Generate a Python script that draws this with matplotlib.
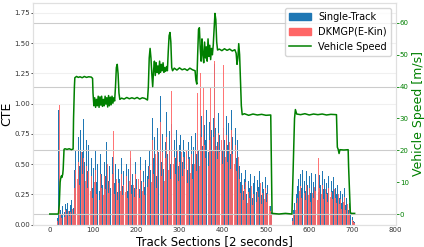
import numpy as np
import matplotlib
matplotlib.use("Agg")
import matplotlib.pyplot as plt
from matplotlib.patches import Patch
from matplotlib.lines import Line2D

# track sections with bars (two driving segments)
sections = np.r_[np.arange(18, 514, 3), np.arange(561, 706, 3)]

# CTE of the single-track model
cte_single = [
    0.05, 0.95, 0.12, 0.08, 0.15, 0.10, 0.17, 0.13, 0.18, 0.11, 0.16, 0.20, 0.14,
    0.45, 0.62, 0.55, 0.72, 0.48, 0.78, 0.60, 0.87, 0.52, 0.70, 0.44, 0.66,
    0.38, 0.55, 0.30, 0.47, 0.62, 0.35, 0.50, 0.28, 0.58, 0.42, 0.33, 0.52, 0.40, 0.68,
    0.36, 0.48, 0.30, 0.56, 0.43, 0.34, 0.50, 0.27, 0.46, 0.38, 0.55, 0.32, 0.44,
    0.35, 0.50, 0.28, 0.46, 0.55, 0.33, 0.42, 0.30, 0.52, 0.38, 0.47, 0.29, 0.56, 0.36,
    0.44, 0.31, 0.53, 0.40, 0.48,
    0.62, 0.45, 0.88, 0.55, 0.72, 0.40, 0.80, 0.60, 1.06, 0.52, 0.75, 0.46, 0.68, 0.93,
    0.58, 0.77, 0.50, 0.83, 0.64,
    0.70, 0.55, 0.78, 0.48, 0.66, 0.74, 0.52, 0.70, 0.60, 0.77, 0.45, 0.68, 0.56, 0.73,
    0.50, 0.64, 0.76, 0.58, 0.70, 0.62,
    0.75, 0.90, 0.65, 0.82, 0.70, 0.95, 0.60, 0.85, 0.72, 0.78, 0.88, 1.33, 0.80, 0.68,
    0.92, 0.74, 0.86, 0.62, 0.80, 0.70, 0.90, 0.66, 0.84, 0.58, 0.95, 0.72, 0.64, 0.80,
    0.55, 0.70, 0.48,
    0.35, 0.43, 0.28, 0.38, 0.45, 0.25, 0.36, 0.30, 0.42, 0.22, 0.34, 0.40, 0.27, 0.37,
    0.31, 0.44, 0.24, 0.35, 0.29, 0.39, 0.26, 0.33, 0.20, 0.15, 0.10,
    0.05, 0.12, 0.18, 0.25, 0.32, 0.38,
    0.42, 0.30, 0.45, 0.36, 0.28, 0.44, 0.33, 0.40, 0.26, 0.43, 0.35, 0.30, 0.42, 0.37,
    0.27, 0.41, 0.33, 0.44, 0.29, 0.38, 0.34, 0.26, 0.40, 0.31, 0.36, 0.28, 0.39, 0.30,
    0.25, 0.33,
    0.22, 0.28, 0.18, 0.25, 0.30, 0.16, 0.22, 0.12, 0.18, 0.10, 0.06, 0.03, 0.02,
]

# CTE of DKMGP(E-Kin)
cte_dkmgp = [
    0.03, 0.99, 0.08, 0.05, 0.10, 0.06, 0.12, 0.09, 0.11, 0.07, 0.10, 0.13, 0.09,
    0.30, 0.45, 0.38, 0.52, 0.33, 0.60, 0.42, 0.55, 0.36, 0.48, 0.30, 0.44,
    0.28, 0.40, 0.22, 0.35, 0.45, 0.25, 0.38, 0.20, 0.42, 0.30, 0.24, 0.40, 0.29, 0.50,
    0.26, 0.36, 0.22, 0.42, 0.77, 0.25, 0.38, 0.20, 0.34, 0.28, 0.42, 0.24, 0.33,
    0.27, 0.40, 0.22, 0.36, 0.62, 0.25, 0.33, 0.23, 0.42, 0.29, 0.38, 0.22, 0.45, 0.28,
    0.35, 0.24, 0.43, 0.31, 0.38,
    0.48, 0.35, 0.70, 0.42, 0.58, 0.30, 0.62, 0.46, 0.85, 0.40, 0.60, 0.36, 0.55, 0.72,
    0.45, 0.62, 0.38, 1.10, 0.50,
    0.56, 0.42, 0.62, 0.36, 0.52, 0.60, 0.40, 0.56, 0.46, 0.62, 0.34, 0.54, 0.43, 0.58,
    0.38, 0.50, 0.61, 0.44, 1.09, 0.48,
    1.25, 0.72, 1.14, 0.66, 0.55, 0.78, 0.48, 0.70, 1.14, 0.62, 0.72, 1.35, 0.65, 0.54,
    0.76, 0.60, 0.70, 0.50, 1.32, 0.56, 0.74, 0.52, 0.68, 0.46, 0.78, 0.58, 0.50, 0.66,
    0.44, 0.56, 0.38,
    0.26, 0.33, 0.20, 0.29, 0.35, 0.18, 0.27, 0.22, 0.32, 0.16, 0.25, 0.31, 0.19, 0.28,
    0.23, 0.34, 0.17, 0.26, 0.21, 0.30, 0.19, 0.25, 0.15, 0.11, 0.08,
    0.03, 0.08, 0.12, 0.18, 0.22, 0.28,
    0.32, 0.22, 0.34, 0.26, 0.20, 0.33, 0.24, 0.30, 0.19, 0.26, 0.22, 0.31, 0.28, 0.20,
    0.55, 0.30, 0.25, 0.33, 0.21, 0.29, 0.25, 0.19, 0.30, 0.23, 0.27, 0.21, 0.29, 0.22,
    0.18, 0.25,
    0.17, 0.21, 0.13, 0.19, 0.23, 0.12, 0.17, 0.09, 0.14, 0.07, 0.04, 0.02, 0.01,
]

# vehicle speed profile [m/s], read at breakpoints
speed_sec = [0, 20, 22, 24, 25, 27, 28, 30, 31, 33, 35, 40, 45, 50, 54, 55, 57, 58, 62, 66,
             70, 75, 80, 85, 90, 96, 99, 100, 102, 104, 106, 108, 110, 112, 114, 116, 118,
             120, 122, 124, 126, 128, 130, 132, 134, 136, 138, 140, 142, 144, 146, 148, 150,
             152, 154, 156, 158, 160, 162, 166, 172, 178, 184, 190, 196, 202, 208, 214, 220,
             226, 228, 230, 232, 234, 236, 238, 240, 242, 244, 246, 248, 250, 252, 254, 256,
             258, 260, 262, 264, 266, 268, 270, 272, 274, 276, 278, 280, 282, 284, 288, 294,
             300, 306, 312, 318, 324, 330, 336, 338, 340, 342, 344, 346, 348, 350, 352, 354,
             356, 358, 360, 362, 364, 366, 368, 370, 372, 374, 376, 378, 380, 382, 384, 386,
             388, 392, 398, 404, 410, 416, 422, 428, 431, 433, 435, 437, 439, 441, 443, 445,
             450, 460, 470, 480, 490, 500, 511, 513, 514, 530, 545, 560, 563, 566, 568, 571,
             580, 590, 600, 610, 620, 630, 640, 650, 663, 665, 667, 669, 671, 680, 690, 691,
             695, 697, 705]
speed_val = [0, 0, 3, 10, 11, 12, 11.5, 12.5, 14, 20.3, 20.5, 20.3, 20.5, 20.2, 20.4, 30, 40,
             42.8, 43.2, 42.9, 43.1, 42.8, 43.2, 42.9, 43.1, 43, 42.6, 38, 34, 36.5, 33.5, 36,
             34, 37, 33.5, 36.8, 34.2, 37, 33.8, 36, 34, 37, 34.5, 36.5, 33.6, 37.2, 34, 36.7,
             34.3, 37, 34.8, 36.5, 35.5, 40, 46, 47, 44, 38, 36, 36.4, 36.1, 36.6, 36.2, 36.5,
             36.2, 36.6, 36.1, 36.5, 36.3, 35.8, 40, 49, 52, 49, 44, 40, 45, 48, 43.5, 47.5,
             44.5, 46.5, 44, 48, 44.5, 47, 45, 47.5, 44.5, 46, 44.8, 46.3, 45, 51, 56, 57, 54,
             46, 45, 45.8, 45.2, 45.9, 45.3, 45.6, 45.1, 45.8, 45.3, 45, 42, 40.8, 50, 58, 58.5,
             52, 48, 55, 50, 47.5, 54, 49, 52.5, 48, 55, 49.5, 53, 48.5, 52, 50, 53, 58, 63, 61,
             54, 51.5, 51.8, 51.3, 51.9, 51.4, 51.8, 51.2, 51.6, 50.5, 47, 49, 53.5, 50, 42, 34,
             31.2, 31.5, 31, 31.4, 31.1, 31.3, 31, 31.1, 10, 0.2, 0, 0.2, 0, 15, 30, 32.8, 31.4,
             31.2, 31.5, 31.1, 31.4, 31.2, 31.4, 31.1, 31.3, 31.2, 21, 20.3, 19, 20.2, 20.1,
             20.2, 15, 0.5, 0.2, 0.2]

xticks = [0, 100, 200, 300, 400, 500, 600, 700, 800]

fig = plt.figure(figsize=(4.24, 2.47), dpi=100)
ax = fig.add_axes([0.0786, 0.091, 0.8547, 0.896])
ax.set_axisbelow(True)
ax.grid(axis="y", color="#f0f0f0", lw=0.8)
ax.bar(sections, cte_single, width=2.2, color="#1f77b4", lw=0)
ax.bar(sections + 0.6, cte_dkmgp, width=2.2, color="#ff6666", alpha=0.9, lw=0)
ax.set_xlim(-38, 797)
ax.set_ylim(0, 1.83)
ax.set_xticks(xticks)
ax.set_yticks(np.arange(0, 1.76, 0.25))
ax.tick_params(axis="x", labelsize=5, length=0, pad=2, colors="#333333")
ax.tick_params(axis="y", labelsize=5, length=1.5, width=0.6, pad=1, colors="#333333")
ax.set_xlabel("Track Sections [2 seconds]", fontsize=8.5, labelpad=1)
ax.set_ylabel("CTE", fontsize=9, labelpad=0.5)

ax2 = ax.twinx()
ax2.plot(speed_sec, speed_val, color="green", lw=1.1)
ax2.set_ylim(-3.3, 66.2)
ax2.set_yticks([0, 10, 20, 30, 40, 50, 60])
ax2.grid(axis="y", color="#cccccc", lw=0.8)
for i, gl in enumerate(ax2.yaxis.get_gridlines()):
    if i % 2 == 1:
        gl.set_visible(False)
ax2.tick_params(axis="y", labelsize=5, length=2, width=0.6, pad=1, colors="green")
ax2.set_ylabel("Vehicle Speed [m/s]", fontsize=9, color="green", labelpad=2)

for a in (ax, ax2):
    for s in a.spines.values():
        s.set_color("#e0e0e0")
        s.set_linewidth(0.8)

handles = [Patch(color="#1f77b4", label="Single-Track"),
           Patch(color="#ff6666", label="DKMGP(E-Kin)"),
           Line2D([], [], color="green", lw=1.1, label="Vehicle Speed")]
ax2.legend(handles=handles, loc="upper right", fontsize=7, frameon=True,
           borderaxespad=0.5, handlelength=2.2, labelspacing=0.5)

fig.savefig("out.png", dpi=100)
